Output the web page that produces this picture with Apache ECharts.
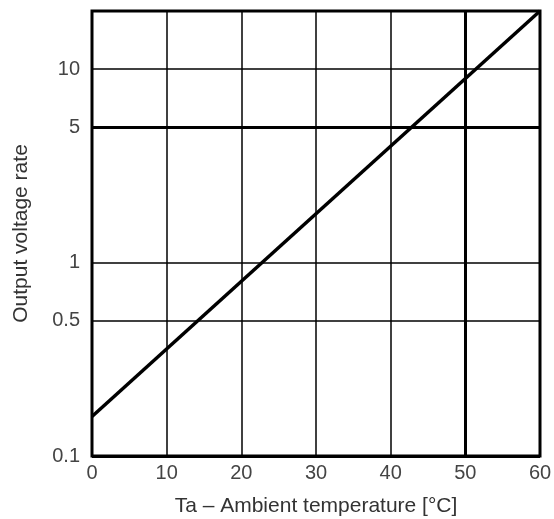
<!DOCTYPE html>
<html>
<head>
<meta charset="utf-8">
<script src="https://cdn.jsdelivr.net/npm/echarts@6/dist/echarts.min.js"></script>
<style>
    html, body { margin: 0; padding: 0; background: #fff; }
    #chart { width: 554px; height: 519px; }
</style>
</head>
<body>
<div id="chart"></div>
<script>
    // data
    const temps = [0, 60]
    const rates = [0.16, 20]
    const thinLevels = [10, 1, 0.5]
    const boldLevels = [5]
    const labelLevels = [0.1]
    const boldTemps = [50]

    const line = temps.map((t, i) => [t, rates[i]])

    // horizontal grid lines + their labels
    const gridLines = []
    thinLevels.forEach(v => gridLines.push({ yAxis: v, lineStyle: { width: 1.5 } }))
    boldLevels.forEach(v => gridLines.push({ yAxis: v, lineStyle: { width: 3 } }))
    labelLevels.forEach(v => gridLines.push({ yAxis: v, lineStyle: { width: 3 } }))
    boldTemps.forEach(v => gridLines.push({ xAxis: v, lineStyle: { width: 3 }, label: { show: false } }))

    let myChart = echarts.init(document.getElementById('chart'))
    myChart.setOption({
        animation: false,
        textStyle: { fontFamily: 'Liberation Sans' },
        grid: {
            left: 92, right: 14, top: 11, bottom: 63,
            outerBoundsMode: 'none',
            show: true, borderColor: '#000', borderWidth: 3
        },
        xAxis: {
            type: 'value',
            min: 0, max: 60, interval: 10,
            name: 'Ta – Ambient temperature [°C]',
            nameLocation: 'middle',
            nameGap: 40,
            nameTextStyle: { fontSize: 21, color: '#333' },
            axisLine: { show: false },
            axisTick: { show: false },
            axisLabel: { fontSize: 20, color: '#444', margin: 7 },
            splitLine: { show: true, lineStyle: { color: '#000', width: 1.5 } }
        },
        yAxis: {
            type: 'log',
            min: 0.1, max: 20,
            name: 'Output voltage rate',
            nameLocation: 'middle',
            nameGap: 60,
            nameTextStyle: { fontSize: 21, color: '#333' },
            axisLine: { show: false },
            axisTick: { show: false },
            axisLabel: { show: false },
            splitLine: { show: false }
        },
        series: [{
            type: 'line',
            data: line,
            showSymbol: false,
            lineStyle: { color: '#000', width: 3.5 },
            markLine: {
                silent: true,
                symbol: 'none',
                animation: false,
                lineStyle: { color: '#000', type: 'solid' },
                label: {
                    show: true,
                    position: 'start',
                    distance: 12,
                    fontSize: 20,
                    color: '#444',
                    formatter: p => String(p.value)
                },
                data: gridLines
            }
        }]
    })
</script>
</body>
</html>
